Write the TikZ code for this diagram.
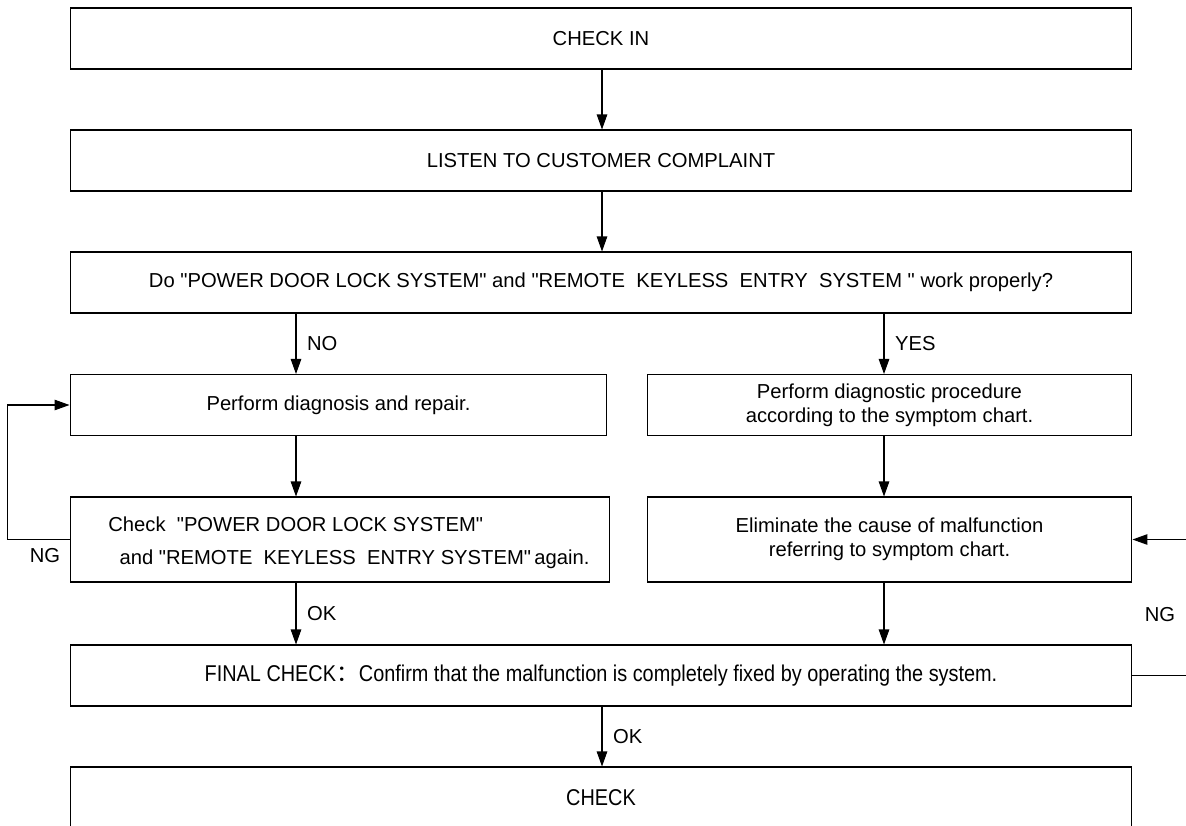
\documentclass[tikz,border=0pt]{standalone}
\usepackage{fontspec}
\setmainfont{Liberation Sans}[Ligatures=TeXOff]
\newfontfamily\narrowfont{Liberation Sans}[FakeStretch=0.87, Ligatures=TeXOff]
\newfontfamily\cjk{Noto Sans CJK SC}
\newcommand{\qmark}{"}
\usetikzlibrary{positioning,arrows.meta}

\begin{document}
\begin{tikzpicture}[
    x=0.02cm, y=-0.02cm,
    box/.style={draw, line width=0.6pt, minimum height=1.22cm, align=center, font=\fontsize{11.5}{13.5}\selectfont, inner sep=0pt},
    widebox/.style={box, minimum width=21.24cm},
    leftbox/.style={box, minimum width=10.74cm},
    rightbox/.style={box, minimum width=9.7cm},
    tallbox/.style={minimum height=1.7cm},
    narrowtext/.style={font=\narrowfont\fontsize{13}{15}\selectfont},
    lbl/.style={font=\fontsize{11.5}{13.5}\selectfont, inner sep=0pt},
    arrow/.style={-{Triangle[length=0.3cm, width=0.21cm]}, line width=0.6pt}
]
    \useasboundingbox (0,0) rectangle (1186,825);
    \clip (0,0) rectangle (1186,825);

    % Column guides for the arrows
    \coordinate (mx) at (602,0);
    \coordinate (lx) at (296,0);
    \coordinate (rx) at (884,0);

    % Main column
    \node[widebox] (checkin) at (601,38.5) {CHECK IN};
    \node[widebox] (listen) at (601,160.5) {LISTEN TO CUSTOMER COMPLAINT};
    \node[widebox] (ask) at (601,282.5) {Do \qmark POWER DOOR LOCK SYSTEM\qmark{} and \qmark REMOTE\ \ KEYLESS\ \ ENTRY\ \ SYSTEM\ \qmark{} work properly?};

    % NO branch
    \node[leftbox] (diag) at (338.5,405) {Perform diagnosis and repair.};
    \node[leftbox, tallbox, minimum width=10.8cm] (recheck) at (340,539.5) {};
    \node[lbl, anchor=west, align=left, font=\fontsize{11.5}{19}\selectfont] (rechecktxt) at (108,543)
        {Check\ \ \qmark POWER DOOR LOCK SYSTEM\qmark\\\ \ and \qmark REMOTE\ \ KEYLESS\ \ ENTRY SYSTEM\qmark\,again.};

    % YES branch
    \node[rightbox] (proc) at (889.5,405) {Perform diagnostic procedure\\according to the symptom chart.};
    \node[rightbox, tallbox] (elim) at (889.5,539.5) {Eliminate the cause of malfunction\\referring to symptom chart.};

    % Final check and end
    \node[widebox, narrowtext] (final) at (601,675.5)
        {FINAL CHECK{\cjk ：}Confirm that the malfunction is completely fixed by operating the system.};
    \node[widebox, narrowtext] (check) at (601,797.5) {CHECK};

    % Arrows
    \draw[arrow] (checkin.south -| mx) -- (listen.north -| mx);
    \draw[arrow] (listen.south -| mx) -- (ask.north -| mx);
    \draw[arrow] (ask.south -| lx) -- node[lbl, right=6pt] (no) {NO} (diag.north -| lx);
    \draw[arrow] (ask.south -| rx) -- node[lbl, right=6pt] (yes) {YES} (proc.north -| rx);
    \draw[arrow] (diag.south -| lx) -- (recheck.north -| lx);
    \draw[arrow] (proc.south -| rx) -- (elim.north -| rx);
    \draw[arrow] (recheck.south -| lx) -- node[lbl, right=6pt] (ok1) {OK} (final.north -| lx);
    \draw[arrow] (elim.south -| rx) -- (final.north -| rx);
    \draw[arrow] (final.south -| mx) -- node[lbl, right=6pt] (ok2) {OK} (check.north -| mx);

    % NG loops
    \draw[arrow] (recheck.west) -- ++(-62,0) |- (diag.west);
    \node[lbl] (ng1) at (45,556) {NG};
    \draw[arrow] (final.east) -- ++(90,0) |- (elim.east);
    \node[lbl] (ng2) at (1160,615) {NG};
\end{tikzpicture}
\end{document}
